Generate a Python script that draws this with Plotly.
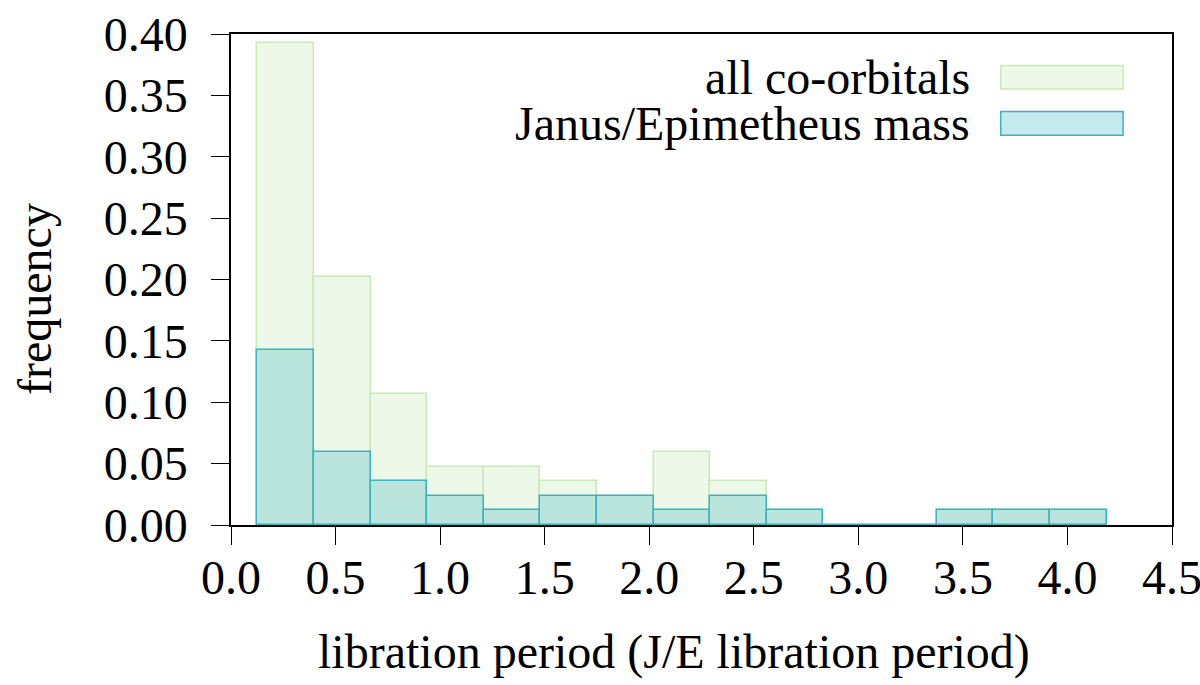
import plotly.graph_objects as go

# histogram bins (libration period in units of the J/E libration period)
bin_start = 0.1263
bin_width = 0.2707
n_bins = 15

# frequencies per bin
all_coorbitals = [0.3929, 0.2024, 0.1071, 0.0476, 0.0476, 0.0357, 0.0238, 0.0595,
                  0.0357, 0.0119, 0.0, 0.0, 0.0119, 0.0119, 0.0119]
je_mass = [0.1429, 0.0595, 0.0357, 0.0238, 0.0119, 0.0238, 0.0238, 0.0119,
           0.0238, 0.0119, 0.0, 0.0, 0.0119, 0.0119, 0.0119]

series_names = ["all co-orbitals", "Janus/Epimetheus mass"]

x_ticks = [0.0, 0.5, 1.0, 1.5, 2.0, 2.5, 3.0, 3.5, 4.0, 4.5]
y_ticks = [0.0, 0.05, 0.10, 0.15, 0.20, 0.25, 0.30, 0.35, 0.40]

centers = [bin_start + bin_width * (i + 0.5) for i in range(n_bins)]

FONT = "Liberation Serif"
FS = 48
green_fill = "#eef8e8"
green_line = "#c8e9b8"
teal_fill = "rgba(64,184,196,0.30)"
teal_line = "#3cb4c0"

fig = go.Figure()
fig.add_trace(go.Bar(
    x=centers, y=all_coorbitals, width=bin_width, name=series_names[0],
    marker=dict(color=green_fill, line=dict(color=green_line, width=1.5)),
))
fig.add_trace(go.Bar(
    x=centers, y=je_mass, width=bin_width, name=series_names[1],
    marker=dict(color=teal_fill, line=dict(color=teal_line, width=1.5)),
))

axis_common = dict(
    showline=True, linecolor="black", linewidth=1.5, mirror=True,
    ticks="outside", ticklen=18, tickwidth=1.2, tickcolor="black",
    showgrid=False, zeroline=False, automargin=False,
    ticklabeloverflow="allow",
    tickfont=dict(family=FONT, size=FS, color="black"),
)

fig.update_layout(
    width=1200, height=685,
    margin=dict(l=231, r=28, t=34, b=160),
    paper_bgcolor="white", plot_bgcolor="white",
    barmode="overlay", bargap=0,
    showlegend=False,
    font=dict(family=FONT, size=FS, color="black"),
    xaxis=dict(range=[0, 4.5], tickvals=x_ticks, tickformat=".1f",
               ticklabelstandoff=-8, **axis_common),
    yaxis=dict(range=[0, 0.4], tickvals=y_ticks, tickformat=".2f",
               ticklabelstandoff=14, **axis_common),
)

# axis titles placed as in the original (slightly off-centre)
fig.add_annotation(xref="paper", yref="paper", x=0.4708, y=-0.2587,
                   xanchor="center", yanchor="middle", showarrow=False,
                   text="libration period (J/E libration period)",
                   font=dict(family=FONT, size=FS, color="black"))
fig.add_annotation(xref="paper", yref="paper", x=-0.2083, y=0.4603,
                   xanchor="center", yanchor="middle", showarrow=False,
                   textangle=-90, text="frequency",
                   font=dict(family=FONT, size=FS, color="black"))

# legend drawn by hand: text on the left, sample box on the right
legend_rows = [(green_fill, green_line, 0.912), (teal_fill, teal_line, 0.818)]
for name, (fill, line, yc) in zip(series_names, legend_rows):
    fig.add_annotation(xref="paper", yref="paper", x=0.7875, y=yc,
                       xanchor="right", yanchor="middle", showarrow=False,
                       text=name, font=dict(family=FONT, size=FS, color="black"))
    fig.add_shape(type="rect", xref="paper", yref="paper",
                  x0=0.818, x1=0.948, y0=yc - 0.024, y1=yc + 0.024,
                  fillcolor=fill, line=dict(color=line, width=1.5))

# drop the default page margin so the figure sits at the window corner
fig.write_html("out.html", config={"displayModeBar": False},
               post_script="document.body.style.margin='0';")
